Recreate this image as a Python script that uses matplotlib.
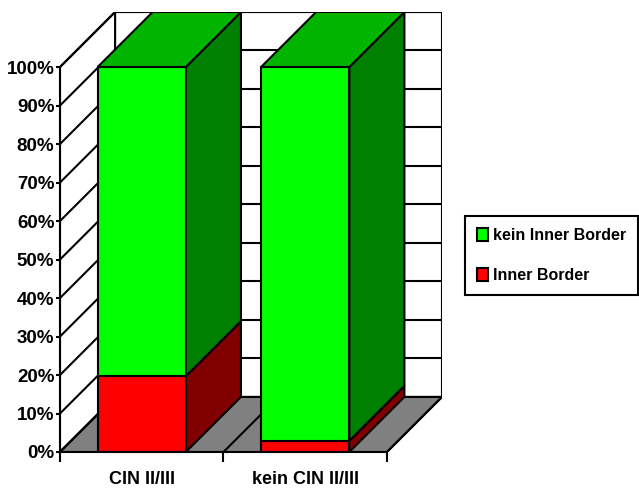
import numpy as np
import matplotlib
matplotlib.use("Agg")
import matplotlib.pyplot as plt
from matplotlib.patches import Polygon, Patch

plt.rcParams['font.family'] = ['Liberation Sans', 'DejaVu Sans']

categories = ["CIN II/III", "kein CIN II/III"]
inner_border = [19.7, 2.9]          # percent
kein_inner_border = [80.3, 97.1]    # percent
series_names = ["Inner Border", "kein Inner Border"]
yticks = list(range(0, 101, 10))

# fake-3D look (Excel style)
DX = 0.337      # depth in category units
DY = 14.3       # depth in percent units
BAR_W = 0.54
LW = 1.5

front_colors = ['#ff0000', '#00ff00']
side_colors = ['#800000', '#008000']
top_color = '#00b400'
floor_color = '#808080'


def poly(ax, pts, fc, z=1):
    ax.add_patch(Polygon(pts, closed=True, facecolor=fc, edgecolor='black',
                         linewidth=LW, zorder=z, joinstyle='miter'))


fig = plt.figure(figsize=(6.39, 4.96), dpi=100)
ax = fig.add_axes([60 / 639, 44 / 496, 382 / 639, 440 / 496])
n = len(categories)
x0, x1 = -0.5, n - 0.5
ax.set_xlim(x0, x1 + DX)
ax.set_ylim(0, 100 + DY)

# back wall with grid
poly(ax, [(x0 + DX, DY), (x1 + DX, DY), (x1 + DX, 100 + DY), (x0 + DX, 100 + DY)], 'white')
for v in yticks:
    ax.plot([x0 + DX, x1 + DX], [v + DY, v + DY], color='black', lw=LW, zorder=1.1)

# left wall
poly(ax, [(x0, 0), (x0 + DX, DY), (x0 + DX, 100 + DY), (x0, 100)], 'white')
for v in yticks:
    ax.plot([x0, x0 + DX], [v, v + DY], color='black', lw=LW, zorder=1.1)

# floor
poly(ax, [(x0, 0), (x1, 0), (x1 + DX, DY), (x0 + DX, DY)], floor_color, z=1.2)
for xb in np.arange(x0, x1 + 0.01, 1.0):
    ax.plot([xb, xb + DX], [0, DY], color='black', lw=LW, zorder=1.3)

# stacked bars
for i in range(n):
    left, right = i - BAR_W / 2, i + BAR_W / 2
    bottom = 0
    for vals, fc, sc in zip([inner_border, kein_inner_border], front_colors, side_colors):
        top = bottom + vals[i]
        poly(ax, [(right, bottom), (right + DX, bottom + DY),
                  (right + DX, top + DY), (right, top)], sc, z=2)
        poly(ax, [(left, bottom), (right, bottom), (right, top), (left, top)], fc, z=2.1)
        bottom = top
    poly(ax, [(left, bottom), (right, bottom), (right + DX, bottom + DY),
              (left + DX, bottom + DY)], top_color, z=2)

# axes
for s in ['top', 'right']:
    ax.spines[s].set_visible(False)
ax.spines['left'].set_bounds(0, 100)
ax.spines['bottom'].set_bounds(x0, x1)
for s in ['left', 'bottom']:
    ax.spines[s].set_linewidth(LW)
    ax.spines[s].set_zorder(3)

ax.set_yticks(yticks)
ax.set_yticklabels([f"{v}%" for v in yticks], fontsize=13.5, fontweight='bold')
ax.tick_params(axis='y', length=3, width=LW, pad=1)

ax.set_xticks(np.arange(x0, x1 + 0.01, 1.0))
ax.set_xticklabels([])
ax.tick_params(axis='x', which='major', length=7, width=LW)
ax.set_xticks(range(n), minor=True)
ax.set_xticklabels(categories, minor=True, fontsize=13, fontweight='bold')
ax.tick_params(axis='x', which='minor', length=0, pad=14)

handles = [Patch(facecolor=front_colors[1], edgecolor='black', linewidth=LW),
           Patch(facecolor=front_colors[0], edgecolor='black', linewidth=LW)]
leg = fig.legend(handles, [series_names[1], series_names[0]],
                 loc='center left', bbox_to_anchor=(465 / 639, 0.485),
                 borderaxespad=0,
                 prop={'weight': 'bold', 'size': 11.5}, fancybox=False,
                 edgecolor='black', framealpha=1, handlelength=0.7,
                 handleheight=0.9, handletextpad=0.3, labelspacing=1.55,
                 borderpad=0.75)
leg.get_frame().set_linewidth(LW)

fig.savefig("out.png", dpi=100)
